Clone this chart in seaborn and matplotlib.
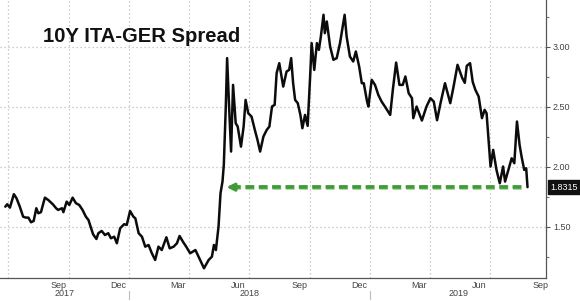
import matplotlib
matplotlib.use("Agg")
import numpy as np
import pandas as pd
import matplotlib.pyplot as plt
import matplotlib.dates as mdates
import matplotlib.transforms as mtransforms
import matplotlib.patheffects as pe
import seaborn as sns

# ---------------- data ----------------
dates_2017 = ["2017-06-27", "2017-06-30", "2017-07-04", "2017-07-10", "2017-07-14", "2017-07-19",
              "2017-07-24", "2017-07-28", "2017-08-01", "2017-08-05", "2017-08-09", "2017-08-13",
              "2017-08-16", "2017-08-20", "2017-08-26", "2017-08-31", "2017-09-07", "2017-09-12",
              "2017-09-15", "2017-09-21", "2017-09-23", "2017-09-28", "2017-10-02", "2017-10-07",
              "2017-10-12", "2017-10-17", "2017-10-22", "2017-10-27", "2017-10-31", "2017-11-07",
              "2017-11-12", "2017-11-15", "2017-11-20", "2017-11-25", "2017-11-30", "2017-12-04",
              "2017-12-09", "2017-12-13", "2017-12-18", "2017-12-24", "2017-12-28"]
values_2017 = [1.669, 1.689, 1.661, 1.773, 1.739, 1.669, 1.586, 1.578, 1.578, 1.539, 1.550, 1.656,
               1.614, 1.623, 1.744, 1.725, 1.689, 1.656, 1.642, 1.656, 1.623, 1.711, 1.683, 1.744,
               1.698, 1.683, 1.642, 1.586, 1.558, 1.439, 1.400, 1.448, 1.467, 1.433, 1.448, 1.406,
               1.419, 1.364, 1.489, 1.523, 1.517]

dates_2018 = ["2018-01-02", "2018-01-07", "2018-01-10", "2018-01-15", "2018-01-20", "2018-01-25",
              "2018-01-30", "2018-02-04", "2018-02-09", "2018-02-14", "2018-02-19", "2018-02-26",
              "2018-03-03", "2018-03-09", "2018-03-14", "2018-03-18", "2018-03-23", "2018-03-28",
              "2018-04-03", "2018-04-11", "2018-04-18", "2018-04-24", "2018-05-01", "2018-05-06",
              "2018-05-09", "2018-05-12", "2018-05-16", "2018-05-19", "2018-05-22", "2018-05-24",
              "2018-05-27", "2018-05-29", "2018-06-01", "2018-06-04", "2018-06-07", "2018-06-11",
              "2018-06-14", "2018-06-19", "2018-06-23", "2018-06-26", "2018-06-30", "2018-07-05",
              "2018-07-10", "2018-07-14", "2018-07-18", "2018-07-23", "2018-07-28", "2018-08-01",
              "2018-08-05", "2018-08-09", "2018-08-12", "2018-08-16", "2018-08-22", "2018-08-27",
              "2018-08-31", "2018-09-03", "2018-09-06", "2018-09-09", "2018-09-13", "2018-09-17",
              "2018-09-20", "2018-09-24", "2018-09-28", "2018-10-02", "2018-10-04", "2018-10-08",
              "2018-10-12", "2018-10-15", "2018-10-18", "2018-10-22", "2018-10-24", "2018-10-27",
              "2018-11-01", "2018-11-06", "2018-11-11", "2018-11-16", "2018-11-23", "2018-11-26",
              "2018-12-01", "2018-12-06", "2018-12-10", "2018-12-15", "2018-12-19", "2018-12-22",
              "2018-12-27", "2018-12-29"]
values_2018 = [1.633, 1.586, 1.572, 1.448, 1.419, 1.336, 1.350, 1.281, 1.225, 1.336, 1.308, 1.414,
               1.322, 1.336, 1.364, 1.425, 1.378, 1.336, 1.281, 1.308, 1.225, 1.156, 1.225, 1.253,
               1.350, 1.308, 1.503, 1.781, 1.878, 2.017, 2.503, 2.906, 2.503, 2.128, 2.683, 2.364,
               2.336, 2.169, 2.336, 2.558, 2.447, 2.419, 2.308, 2.225, 2.128, 2.253, 2.308, 2.336,
               2.503, 2.517, 2.781, 2.864, 2.669, 2.794, 2.808, 2.906, 2.697, 2.558, 2.531, 2.433,
               2.322, 2.433, 2.342, 2.781, 3.031, 2.808, 3.031, 2.975, 3.086, 3.267, 3.114, 3.211,
               3.003, 2.892, 2.906, 3.031, 3.267, 3.086, 2.919, 2.878, 2.961, 2.836, 2.697, 2.697,
               2.544, 2.503]

dates_2019 = ["2019-01-03", "2019-01-08", "2019-01-13", "2019-01-18", "2019-01-23", "2019-01-31",
              "2019-02-04", "2019-02-09", "2019-02-14", "2019-02-19", "2019-02-23", "2019-02-28",
              "2019-03-05", "2019-03-07", "2019-03-12", "2019-03-20", "2019-03-27", "2019-04-02",
              "2019-04-07", "2019-04-12", "2019-04-17", "2019-04-24", "2019-05-02", "2019-05-07",
              "2019-05-13", "2019-05-20", "2019-05-24", "2019-05-27", "2019-06-01", "2019-06-05",
              "2019-06-09", "2019-06-14", "2019-06-19", "2019-06-23", "2019-06-26", "2019-07-02",
              "2019-07-06", "2019-07-11", "2019-07-16", "2019-07-21", "2019-07-24", "2019-07-29",
              "2019-08-03", "2019-08-07", "2019-08-11", "2019-08-15", "2019-08-18", "2019-08-22",
              "2019-08-25", "2019-08-27"]
values_2019 = [2.725, 2.683, 2.600, 2.544, 2.503, 2.433, 2.642, 2.869, 2.683, 2.683, 2.753, 2.614,
               2.572, 2.406, 2.503, 2.386, 2.503, 2.572, 2.544, 2.389, 2.525, 2.697, 2.531, 2.669,
               2.850, 2.742, 2.700, 2.842, 2.864, 2.708, 2.642, 2.586, 2.406, 2.475, 2.447, 2.003,
               2.142, 1.975, 1.864, 2.003, 1.878, 1.975, 2.072, 2.031, 2.378, 2.183, 2.086, 1.975,
               1.989, 1.8315]

last_value = 1.8315
last_label = "1.8315"
arrow_tip_date = "2018-05-28"
arrow_end_date = "2019-08-25"

y_ticks = [1.50, 2.00, 2.50, 3.00]
y_minor = [1.25, 1.75, 2.25, 2.75, 3.25]
years = ["2017", "2018", "2019"]
title = "10Y ITA-GER Spread"

x_start = "2017-06-19"
x_end = "2019-09-24"

# ---------------- plot ----------------
sns.set_style("white")
plt.rcParams['font.family'] = ['Liberation Sans', 'DejaVu Sans']

df = pd.DataFrame({
    "date": pd.to_datetime(dates_2017 + dates_2018 + dates_2019),
    "spread": values_2017 + values_2018 + values_2019,
})

fig = plt.figure(figsize=(5.8, 3.01), dpi=100)
ax = fig.add_axes([0.0, 23 / 301, 546 / 580, 1 - 23 / 301])

xs = pd.Timestamp(x_start)
xe = pd.Timestamp(x_end)
d2n = mdates.date2num

# grid
for d in pd.date_range(xs, xe, freq="QS"):
    ax.axvline(d2n(d), color="#bdbdbd", linestyle=(0, (1, 2.2)), linewidth=0.9, zorder=0)
for v in y_ticks:
    ax.axhline(v, color="#bdbdbd", linestyle=(0, (1, 2.2)), linewidth=0.9, zorder=0)

sns.lineplot(data=df, x="date", y="spread", ax=ax, color="#0c0c0c", linewidth=1.8, zorder=3)

ax.set_xlim(d2n(xs), d2n(xe))
ax.set_ylim(1.075, 3.39)
ax.set_xlabel("")
ax.set_ylabel("")

# spines
for s in ["left", "top"]:
    ax.spines[s].set_visible(False)
for s in ["right", "bottom"]:
    ax.spines[s].set_color("#555555")
    ax.spines[s].set_linewidth(0.9)

# y axis on right
ax.yaxis.tick_right()
ax.set_yticks(y_ticks)
ax.set_yticklabels([f"{v:.2f}" for v in y_ticks])
ax.set_yticks(y_minor, minor=True)
ax.tick_params(axis="y", which="major", direction="out", length=3, width=0.8,
               color="#555555", labelsize=6.5, labelcolor="#444444", pad=2)
ax.tick_params(axis="y", which="minor", direction="out", length=2, width=0.8, color="#777777")

# x axis
ax.xaxis.set_major_locator(mdates.MonthLocator(bymonth=[3, 6, 9, 12], bymonthday=15))
ax.xaxis.set_major_formatter(mdates.DateFormatter("%b"))
ax.xaxis.set_minor_locator(mdates.MonthLocator(bymonthday=1))
ax.tick_params(axis="x", which="major", length=0, labelsize=6.5, labelcolor="#444444", pad=2)
ax.tick_params(axis="x", which="minor", direction="out", length=2.5, width=0.8, color="#777777")

# year labels and separators
blend = mtransforms.blended_transform_factory(ax.transData, ax.transAxes)
for y in years:
    a = max(pd.Timestamp(f"{y}-01-01"), xs)
    b = min(pd.Timestamp(f"{int(y) + 1}-01-01"), xe)
    mid = d2n(a + (b - a) / 2)
    ax.annotate(y, xy=(mid, 0), xycoords=blend, xytext=(0, -16), textcoords="offset pixels",
                ha="center", va="center", fontsize=6.5, color="#444444", annotation_clip=False)
    jan = pd.Timestamp(f"{y}-01-01")
    if jan > xs:
        ax.plot([d2n(jan)] * 2, [-0.045, -0.075], transform=blend,
                color="#bbbbbb", linewidth=0.8, clip_on=False)

# green dashed arrow
green = "#3f9a37"
tip = pd.Timestamp(arrow_tip_date)
end = pd.Timestamp(arrow_end_date)
ax.plot([d2n(tip + pd.Timedelta(days=8)), d2n(end)], [last_value, last_value], color=green,
        linewidth=2.6, linestyle=(0, (2.4, 1.3)), zorder=4,
        path_effects=[pe.withStroke(linewidth=3.6, foreground="#a9d8a0")])
ax.annotate("", xy=(d2n(tip), last_value), xytext=(d2n(tip + pd.Timedelta(days=14)), last_value),
            arrowprops=dict(arrowstyle="-|>", color=green, lw=2.2, mutation_scale=11,
                            shrinkA=0, shrinkB=0), zorder=5)

# last value label box
ax.text(1.008, last_value, last_label,
        transform=mtransforms.blended_transform_factory(ax.transAxes, ax.transData),
        ha="left", va="center", fontsize=6.5, color="white", clip_on=False,
        bbox=dict(boxstyle="square,pad=0.25", fc="#111111", ec="#111111"))

# title
fig.text(43 / 580, 1 - 36 / 301, title, fontsize=14.6, fontweight="bold",
         ha="left", va="center", color="#111111")

fig.savefig("out.png", dpi=100)
